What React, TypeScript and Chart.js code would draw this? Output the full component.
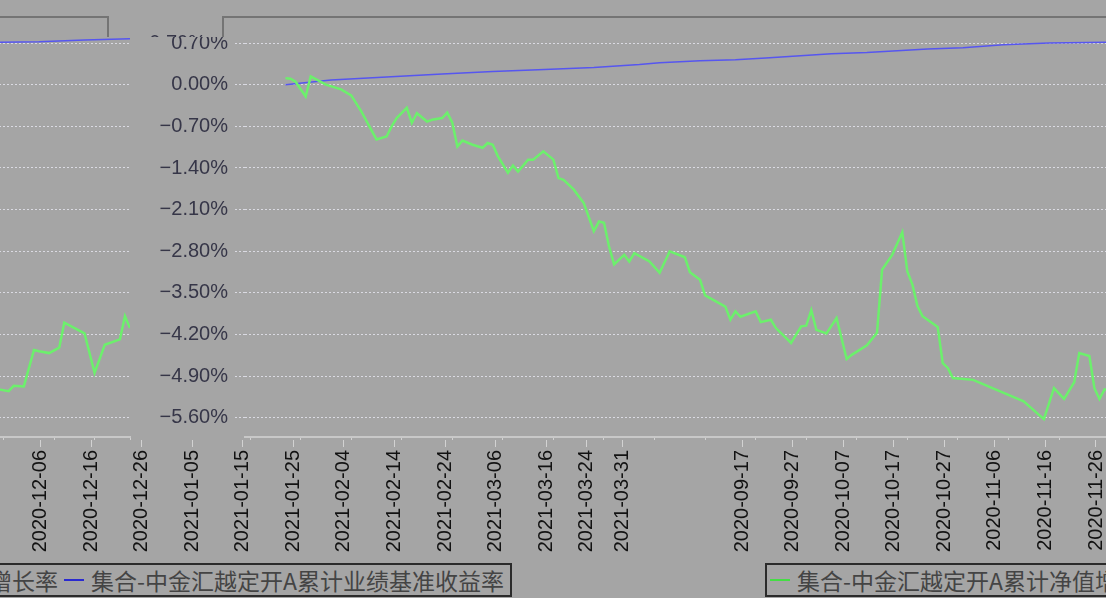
import React, { useEffect, useRef } from 'react';
import { Chart, registerables } from 'chart.js';

Chart.register(...registerables);

// ---------------- data ----------------
const seriesNames = ['集合-中金汇越定开A累计净值增长率', '集合-中金汇越定开A累计业绩基准收益率'];
const seriesColors = ['#6cf06c', '#5656f0'];

const navDates = [
  '2020-09-24', '2020-09-25', '2020-09-26', '2020-09-28', '2020-09-29', '2020-10-02', '2020-10-05',
  '2020-10-07', '2020-10-09', '2020-10-12', '2020-10-14', '2020-10-15', '2020-10-16', '2020-10-18',
  '2020-10-19', '2020-10-20', '2020-10-22', '2020-10-23', '2020-10-25', '2020-10-26', '2020-10-27',
  '2020-10-28', '2020-10-29', '2020-10-31', '2020-11-02', '2020-11-03', '2020-11-04', '2020-11-05',
  '2020-11-07', '2020-11-08', '2020-11-09', '2020-11-11', '2020-11-12', '2020-11-14', '2020-11-16',
  '2020-11-17', '2020-11-18', '2020-11-20', '2020-11-22', '2020-11-24', '2020-11-25', '2020-11-26',
  '2020-11-27', '2020-11-28', '2020-11-30', '2020-12-01', '2020-12-02', '2020-12-05', '2020-12-07',
  '2020-12-09', '2020-12-12', '2020-12-13', '2020-12-15', '2020-12-16', '2020-12-20', '2020-12-21',
  '2020-12-22', '2020-12-23', '2020-12-26', '2020-12-27', '2020-12-29', '2020-12-30', '2021-01-02',
  '2021-01-04', '2021-01-05', '2021-01-06', '2021-01-07', '2021-01-09', '2021-01-11', '2021-01-13',
  '2021-01-14', '2021-01-17', '2021-01-19', '2021-01-20', '2021-01-22', '2021-01-24', '2021-01-25',
  '2021-01-26', '2021-01-27', '2021-01-28', '2021-01-31', '2021-02-01', '2021-02-02', '2021-02-03',
  '2021-02-07', '2021-02-17', '2021-02-21', '2021-02-23', '2021-02-25', '2021-02-27', '2021-02-28',
  '2021-03-02', '2021-03-03', '2021-03-04', '2021-03-05', '2021-03-07', '2021-03-08', '2021-03-10',
  '2021-03-12', '2021-03-13', '2021-03-15', '2021-03-17', '2021-03-18', '2021-03-22', '2021-03-24',
  '2021-03-26', '2021-03-29', '2021-03-30', '2021-03-31',
];
const navValues = [
  0.11, 0.10, 0.05, -0.20, 0.14, 0.00, -0.08,
  -0.18, -0.45, -0.92, -0.87, -0.70, -0.56, -0.39,
  -0.64, -0.48, -0.62, -0.59, -0.56, -0.47, -0.64,
  -1.04, -0.94, -1.01, -1.06, -0.98, -1.01, -1.20,
  -1.48, -1.36, -1.46, -1.26, -1.26, -1.12, -1.26,
  -1.57, -1.60, -1.76, -1.99, -2.46, -2.30, -2.32,
  -2.72, -3.02, -2.86, -2.97, -2.83, -2.97, -3.16,
  -2.80, -2.90, -3.15, -3.28, -3.54, -3.73, -3.95,
  -3.81, -3.90, -3.81, -3.99, -3.95, -4.09, -4.34,
  -4.06, -4.05, -3.79, -4.12, -4.18, -3.92, -4.61,
  -4.54, -4.38, -4.17, -3.11, -2.86, -2.48, -3.14,
  -3.36, -3.72, -3.89, -4.07, -4.68, -4.76, -4.93,
  -4.96, -5.32, -5.62, -5.10, -5.28, -5.00, -4.51,
  -4.56, -5.10, -5.28, -5.12, -5.15, -5.06, -5.07,
  -4.46, -4.48, -4.51, -4.42, -4.00, -4.18, -4.84,
  -4.37, -4.28, -3.89, -4.09,
];

const benchDates = [
  '2020-09-24', '2020-10-03', '2020-10-14', '2020-10-25', '2020-11-04', '2020-11-13', '2020-11-24',
  '2020-12-03', '2020-12-07', '2020-12-15', '2020-12-22', '2020-12-28', '2021-01-10', '2021-01-17',
  '2021-01-29', '2021-02-05', '2021-02-13', '2021-02-22', '2021-03-13', '2021-03-22', '2021-03-31',
];
const benchValues = [
  0.00, 0.08, 0.13, 0.18, 0.22, 0.25, 0.29,
  0.34, 0.37, 0.40, 0.42, 0.45, 0.52, 0.54,
  0.60, 0.62, 0.67, 0.70, 0.72, 0.75, 0.77,
];

const xTickLabels = [
  '2020-09-17', '2020-09-27', '2020-10-07', '2020-10-17', '2020-10-27', '2020-11-06', '2020-11-16',
  '2020-11-26', '2020-12-06', '2020-12-16', '2020-12-26', '2021-01-05', '2021-01-15', '2021-01-25',
  '2021-02-04', '2021-02-14', '2021-02-24', '2021-03-06', '2021-03-16', '2021-03-24', '2021-03-31',
];
const xStart = '2020-09-16';
const xEnd = '2021-03-31';
const yTickValues = [-5.6, -4.9, -4.2, -3.5, -2.8, -2.1, -1.4, -0.7, 0, 0.7];
const yMin = -5.92;
const yMax = 1.137;

// ---------------- helpers ----------------
const dayNum = (s: string) => {
  const [y, m, d] = s.split('-').map(Number);
  return Date.UTC(y, m - 1, d) / 86400000;
};
const xTickDays = xTickLabels.map(dayNum);
const fmtPct = (v: number) => (v < 0 ? '\u2212' : '') + Math.abs(v).toFixed(2) + '%';

const W = 1106;
const H = 560;
const BG = '#a5a5a5';

const framePlugin = {
  id: 'frameTop',
  afterDraw(chart: any) {
    const { ctx, chartArea } = chart;
    ctx.save();
    ctx.strokeStyle = '#747474';
    ctx.lineWidth = 2;
    ctx.beginPath();
    ctx.moveTo(chartArea.left, chartArea.top + 20);
    ctx.lineTo(chartArea.left, chartArea.top);
    ctx.lineTo(chartArea.right, chartArea.top);
    ctx.lineTo(chartArea.right, chartArea.top + 20);
    ctx.stroke();
    ctx.restore();
  },
};

function makeConfig(): any {
  return {
    type: 'line',
    data: {
      datasets: [
        {
          label: seriesNames[0],
          data: navDates.map((d, i) => ({ x: dayNum(d), y: navValues[i] })),
          borderColor: seriesColors[0],
          borderWidth: 2.5,
          pointRadius: 0,
          tension: 0,
        },
        {
          label: seriesNames[1],
          data: benchDates.map((d, i) => ({ x: dayNum(d), y: benchValues[i] })),
          borderColor: seriesColors[1],
          borderWidth: 1.5,
          pointRadius: 0,
          tension: 0,
        },
      ],
    },
    options: {
      responsive: false,
      animation: false,
      devicePixelRatio: 1,
      layout: { padding: { top: 17, right: 10, left: 0, bottom: 0 } },
      plugins: { legend: { display: false }, tooltip: { enabled: false } },
      scales: {
        x: {
          type: 'linear',
          min: dayNum(xStart),
          max: dayNum(xEnd),
          afterBuildTicks: (s: any) => {
            s.ticks = xTickDays.map((v) => ({ value: v }));
          },
          afterFit: (s: any) => {
            s.height = 123;
            s.paddingLeft = 0;
            s.paddingRight = 0;
          },
          ticks: {
            autoSkip: false,
            minRotation: 90,
            maxRotation: 90,
            padding: 3,
            color: '#121212',
            font: { family: "'Liberation Sans', Arial, sans-serif", size: 20 },
            callback: (v: number) => {
              const i = xTickDays.indexOf(v);
              return i >= 0 ? xTickLabels[i] : '';
            },
          },
          grid: {
            drawOnChartArea: false,
            drawTicks: true,
            tickLength: 10,
            tickColor: '#d2d2d2',
          },
          border: { display: true, color: '#c8c8c8', width: 2 },
        },
        y: {
          type: 'linear',
          min: yMin,
          max: yMax,
          afterBuildTicks: (s: any) => {
            s.ticks = yTickValues.map((v) => ({ value: v }));
          },
          afterFit: (s: any) => {
            s.width = 105;
            s.paddingTop = 0;
            s.paddingBottom = 0;
          },
          ticks: {
            padding: 7,
            color: '#363648',
            font: { family: "'Liberation Sans', Arial, sans-serif", size: 20 },
            callback: (v: number) => fmtPct(v),
          },
          grid: {
            color: '#dadae2',
            lineWidth: 1,
            tickLength: 10,
            tickColor: '#dadae2',
            tickBorderDash: [2, 2],
          },
          border: { display: false, dash: [2, 2] },
        },
      },
    },
    plugins: [framePlugin],
  };
}

function ChartCanvas({ left, top }: { left: number; top: number }) {
  const ref = useRef<HTMLCanvasElement | null>(null);
  useEffect(() => {
    if (!ref.current) return;
    const chart = new Chart(ref.current, makeConfig());
    return () => chart.destroy();
  }, []);
  return (
    <canvas
      ref={ref}
      width={W}
      height={H}
      style={{ position: 'absolute', left, top, width: W, height: H, display: 'block' }}
    />
  );
}

function LegendBox({ left, top }: { left: number; top: number }) {
  const sample = (color: string, ml: number) => (
    <span
      style={{ display: 'inline-block', width: 20, height: 2, background: color, marginLeft: ml, marginRight: 7, flex: 'none' }}
    />
  );
  return (
    <div
      style={{
        position: 'absolute',
        left,
        top,
        width: 853,
        height: 34,
        boxSizing: 'border-box',
        border: '2px solid #2b2b2b',
        display: 'flex',
        alignItems: 'center',
        paddingLeft: 3,
        whiteSpace: 'nowrap',
        fontFamily: "'Noto Sans CJK SC', sans-serif",
        fontSize: 23,
        lineHeight: '30px',
        color: '#444444',
        overflow: 'hidden',
      }}
    >
      {sample('#44dd44', 0)}
      <span>{seriesNames[0]}</span>
      {sample('#2a2ad0', 6)}
      <span>{seriesNames[1]}</span>
    </div>
  );
}

// horizontal strips of the picture, each showing the chart at its own offset
const chartStrips = [
  { top: 0, height: 37, offset: 118 },
  { top: 37, height: 403, offset: 140 },
  { top: 440, height: 118, offset: 632 },
];
const legendStrip = { top: 558, height: 40, offset: 765 };

export default function App() {
  return (
    <div
      style={{
        position: 'fixed',
        left: 0,
        top: 0,
        width: W,
        height: 598,
        overflow: 'hidden',
        background: BG,
      }}
    >
      {chartStrips.map((s, i) => (
        <div
          key={i}
          style={{ position: 'absolute', left: 0, top: s.top, width: W, height: s.height, overflow: 'hidden' }}
        >
          <ChartCanvas left={s.offset} top={-s.top} />
          <ChartCanvas left={s.offset - W} top={-s.top} />
        </div>
      ))}
      <div
        style={{
          position: 'absolute',
          left: 0,
          top: legendStrip.top,
          width: W,
          height: legendStrip.height,
          overflow: 'hidden',
        }}
      >
        <LegendBox left={legendStrip.offset} top={5} />
        <LegendBox left={legendStrip.offset - W} top={5} />
      </div>
    </div>
  );
}
